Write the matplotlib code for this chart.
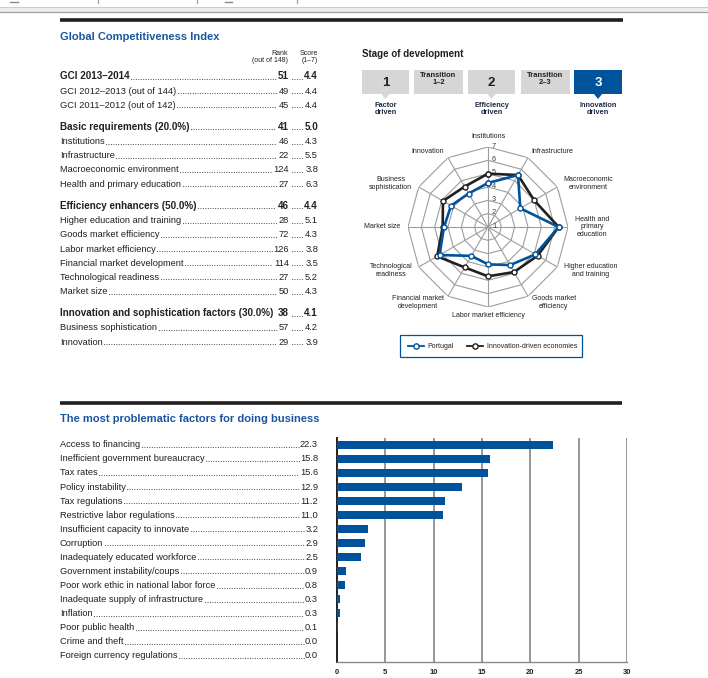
import matplotlib
matplotlib.use('Agg')
import matplotlib.pyplot as plt
import numpy as np
from matplotlib import font_manager, transforms
from matplotlib.patches import Rectangle, Polygon
from matplotlib.lines import Line2D

# ---------------- data ----------------
gci_labels = ['GCI 2013\u20132014', 'GCI 2012\u20132013 (out of 144)', 'GCI 2011\u20132012 (out of 142)',
              'Basic requirements (20.0%)', 'Institutions', 'Infrastructure',
              'Macroeconomic environment', 'Health and primary education',
              'Efficiency enhancers (50.0%)', 'Higher education and training',
              'Goods market efficiency', 'Labor market efficiency',
              'Financial market development', 'Technological readiness', 'Market size',
              'Innovation and sophistication factors (30.0%)', 'Business sophistication',
              'Innovation']
gci_ranks = ['51', '49', '45', '41', '46', '22', '124', '27', '46', '28', '72', '126',
             '114', '27', '50', '38', '57', '29']
gci_scores = ['4.4', '4.4', '4.4', '5.0', '4.3', '5.5', '3.8', '6.3', '4.4', '5.1', '4.3',
              '3.8', '3.5', '5.2', '4.3', '4.1', '4.2', '3.9']
gci_bold = [True, False, False, True, False, False, False, False, True, False, False,
            False, False, False, False, True, False, False]
gci_group = [0, 0, 0, 1, 1, 1, 1, 1, 2, 2, 2, 2, 2, 2, 2, 3, 3, 3]

stage_boxes = ['1', 'Transition\n1\u20132', '2', 'Transition\n2\u20133', '3']
stage_names = ['Factor\ndriven', 'Efficiency\ndriven', 'Innovation\ndriven']
current_stage = 4

pillars = ['Institutions', 'Infrastructure', 'Macroeconomic\nenvironment',
           'Health and\nprimary\neducation', 'Higher education\nand training',
           'Goods market\nefficiency', 'Labor market efficiency',
           'Financial market\ndevelopment', 'Technological\nreadiness', 'Market size',
           'Business\nsophistication', 'Innovation']
portugal = [4.3, 5.5, 3.8, 6.3, 5.1, 4.3, 3.8, 3.5, 5.2, 4.3, 4.2, 3.9]
innovation_driven = [5.0, 5.5, 5.0, 6.3, 5.3, 4.9, 4.7, 4.5, 5.4, 4.4, 4.9, 4.5]
series_names = ['Portugal', 'Innovation-driven economies']

factors = ['Access to financing', 'Inefficient government bureaucracy', 'Tax rates',
           'Policy instability', 'Tax regulations', 'Restrictive labor regulations',
           'Insufficient capacity to innovate', 'Corruption',
           'Inadequately educated workforce', 'Government instability/coups',
           'Poor work ethic in national labor force',
           'Inadequate supply of infrastructure', 'Inflation', 'Poor public health',
           'Crime and theft', 'Foreign currency regulations']
factor_values = [22.3, 15.8, 15.6, 12.9, 11.2, 11.0, 3.2, 2.9, 2.5, 0.9, 0.8, 0.3, 0.3,
                 0.1, 0.0, 0.0]

# ---------------- style ----------------
def pick_font(cands):
    for c in cands:
        try:
            font_manager.findfont(c, fallback_to_default=False)
            return c
        except Exception:
            pass
    return 'DejaVu Sans'

NARROW = pick_font(['Liberation Sans Narrow', 'Arial Narrow', 'Liberation Sans'])
plt.rcParams['font.family'] = [NARROW, 'DejaVu Sans']

BLUE = '#00529b'
TITLE_BLUE = '#1a55a0'
TXT = '#231f20'

W, H = 708, 678
fig = plt.figure(figsize=(W / 100, H / 100), dpi=100)
renderer = fig.canvas.get_renderer()


def fx(x):
    return x / W


def fy(y):
    return 1 - y / H


def ftext(x, y, s, **kw):
    return fig.text(fx(x), fy(y), s, **kw)


def hline(x0, x1, y, **kw):
    fig.add_artist(Line2D([fx(x0), fx(x1)], [fy(y), fy(y)], transform=fig.transFigure, **kw))


def leader(x0, x1, y):
    if x1 - x0 > 2:
        fig.add_artist(Line2D([fx(x0), fx(x1)], [fy(y), fy(y)], transform=fig.transFigure,
                              color='#444444', lw=0.8, linestyle=(0, (0.1, 2.1)),
                              dash_capstyle='round'))


def right_edge(t):
    return t.get_window_extent(renderer).x1


def left_edge(t):
    return t.get_window_extent(renderer).x0

# ---------------- page decorations ----------------
for x in [98, 197, 297]:
    fig.add_artist(Line2D([fx(x), fx(x)], [fy(0), fy(3)], transform=fig.transFigure,
                          color='#b0a8a0', lw=1))
for x0, x1 in [(10, 18), (225, 232)]:
    hline(x0, x1, 1.5, color='#888888', lw=1)
fig.add_artist(Rectangle((0, fy(12)), 1, fy(7) - fy(12), transform=fig.transFigure,
                         facecolor='#eeeeee', edgecolor='none'))
hline(0, W, 7, color='#cccccc', lw=0.8)
hline(0, W, 12, color='#a0a0a0', lw=0.9)
hline(60, 623, 20, color='#231f20', lw=2.6, solid_capstyle='butt')
hline(60, 622, 403, color='#231f20', lw=2.6, solid_capstyle='butt')

# ---------------- GCI table ----------------
ftext(60, 37, 'Global Competitiveness Index', fontsize=8.0, fontweight='bold',
      color=TITLE_BLUE, va='center', ha='left')
ftext(288, 57, 'Rank\n(out of 148)', fontsize=5, color=TXT, ha='right', va='center',
      ma='right', linespacing=1.0)
ftext(318, 57, 'Score\n(1\u20137)', fontsize=5, color=TXT, ha='right', va='center',
      ma='right', linespacing=1.0)

FS_T = 6.7
for i, (lab, rk, sc, bd, g) in enumerate(zip(gci_labels, gci_ranks, gci_scores, gci_bold,
                                              gci_group)):
    yc = 76 + i * 14.2 + g * 8
    yb = yc + 3.3
    w = 'bold' if bd else 'normal'
    fs = FS_T + (0.4 if bd else 0)
    t1 = ftext(60, yb, lab, fontsize=fs, fontweight=w, color=TXT, va='baseline', ha='left')
    t2 = ftext(289, yb, rk, fontsize=fs, fontweight=w, color=TXT, va='baseline', ha='right')
    t3 = ftext(318, yb, sc, fontsize=fs, fontweight=w, color=TXT, va='baseline', ha='right')
    leader(right_edge(t1) + 1.5, left_edge(t2) - 2, yb - 0.5)
    leader(right_edge(t2) + 2.5, left_edge(t3) - 1.5, yb - 0.5)

# ---------------- Stage of development ----------------
ftext(362, 54, 'Stage of development', fontsize=7.0, fontweight='bold', color=TXT,
      va='center', ha='left')
box_x = [(362, 409), (414, 463), (468, 515), (521, 570), (574, 622)]
for k, ((x0, x1), lab) in enumerate(zip(box_x, stage_boxes)):
    active = (k == current_stage)
    fc = BLUE if active else '#d6d6d6'
    tc = 'white' if active else TXT
    fig.add_artist(Rectangle((fx(x0), fy(94)), fx(x1) - fx(x0), fy(70) - fy(94),
                             transform=fig.transFigure, facecolor=fc, edgecolor='none'))
    xc = (x0 + x1) / 2
    if k % 2 == 0:
        ftext(xc, 82.5, lab, fontsize=9.5, fontweight='bold', color=tc, ha='center',
              va='center')
        fig.add_artist(Polygon([[fx(xc - 4), fy(94)], [fx(xc + 4), fy(94)], [fx(xc), fy(99)]],
                               closed=True, transform=fig.transFigure, facecolor=fc,
                               edgecolor='none'))
        ftext(xc, 109, stage_names[k // 2], fontsize=5.3, fontweight='bold', color='#1c2a44',
              ha='center', va='center', linespacing=1.05)
    else:
        ftext(xc, 79, lab, fontsize=5.4, fontweight='bold', color=TXT, ha='center',
              va='center', linespacing=1.0)

# ---------------- Radar ----------------
cx, cy, R = 488, 227, 80
axr = fig.add_axes([fx(cx - R), fy(cy + R), 2 * R / W, 2 * R / H], projection='polar')
axr.set_theta_zero_location('N')
axr.set_theta_direction(-1)
axr.set_ylim(1, 7)
axr.grid(False)
axr.set_xticks([])
axr.set_yticks([])
axr.spines['polar'].set_visible(False)
axr.patch.set_visible(False)
n = len(pillars)
theta = np.arange(n) * 2 * np.pi / n
theta_c = np.append(theta, theta[0])
for r in range(2, 8):
    axr.plot(theta_c, [r] * (n + 1), color='#9d9d9d', lw=0.8, zorder=1)
for t in theta:
    axr.plot([t, t], [1, 7], color='#9d9d9d', lw=0.8, zorder=1)
off = transforms.offset_copy(axr.transData, fig=fig, x=4, y=1, units='dots')
for r in range(1, 8):
    axr.text(0, r, str(r), transform=off, fontsize=5.3, color='#4a3a30', ha='left',
             va='center', zorder=2)
for vals, col, z in [(innovation_driven, '#231f20', 3), (portugal, BLUE, 4)]:
    v = np.append(vals, vals[0])
    axr.plot(theta_c, v, color=col, lw=1.9, marker='o', ms=3.6, mfc='white', mec=col,
             mew=1.0, zorder=z, clip_on=False)
for t, lab in zip(theta, pillars):
    deg = np.degrees(t)
    if deg == 0:
        ha, va, rr = 'center', 'bottom', 7.5
    elif deg == 180:
        ha, va, rr = 'center', 'top', 7.35
    elif deg < 180:
        ha, va, rr = 'left', 'center', 7.55
    else:
        ha, va, rr = 'right', 'center', 7.55
    axr.text(t, rr, lab, fontsize=5.0, color=TXT, ha=ha, va=va, ma='center',
             linespacing=1.1, clip_on=False)

# legend
fig.add_artist(Rectangle((fx(400), fy(357)), fx(582) - fx(400), fy(335) - fy(357),
                         transform=fig.transFigure, facecolor='white', edgecolor=BLUE,
                         lw=0.9))
for (x0, x1, xt), col, name in zip([(408, 424, 427), (467, 483, 487)], [BLUE, '#231f20'],
                                    series_names):
    fig.add_artist(Line2D([fx(x0), fx(x1)], [fy(346), fy(346)], transform=fig.transFigure,
                          color=col, lw=1.3))
    fig.add_artist(Line2D([fx((x0 + x1) / 2)], [fy(346)], transform=fig.transFigure,
                          color=col, marker='o', ms=3.8, mfc='white', mec=col, mew=1.0))
    ftext(xt, 346, name, fontsize=5.0, color=TXT, ha='left', va='center')

# ---------------- Problematic factors ----------------
ftext(60, 419, 'The most problematic factors for doing business', fontsize=8.0,
      fontweight='bold', color=TITLE_BLUE, va='center', ha='left')
for i, (lab, v) in enumerate(zip(factors, factor_values)):
    yb = 444 + i * 14.07 + 3.3
    t1 = ftext(60, yb, lab, fontsize=FS_T, color=TXT, va='baseline', ha='left')
    t2 = ftext(318, yb, f'{v:.1f}', fontsize=FS_T, color=TXT, va='baseline', ha='right')
    leader(right_edge(t1) + 1.5, left_edge(t2) - 1, yb - 0.5)

axb = fig.add_axes([fx(337), fy(662), (627 - 337) / W, (662 - 438) / H])
ypos = np.arange(len(factors))
axb.barh(ypos, factor_values, height=0.52, color=BLUE, zorder=3)
axb.set_xlim(0, 30)
axb.set_ylim(len(factors) - 0.5, -0.5)
axb.set_yticks([])
axb.set_xticks(np.arange(0, 31, 5))
axb.tick_params(axis='x', length=0, pad=5, labelsize=5.4, colors=TXT)
for lbl in axb.get_xticklabels():
    lbl.set_fontweight('bold')
for x in np.arange(5, 31, 5):
    axb.axvline(x, color='#7a7a7a', lw=1.1, zorder=1)
for s in ['top', 'right']:
    axb.spines[s].set_visible(False)
axb.spines['left'].set_color('#231f20')
axb.spines['left'].set_linewidth(1.4)
axb.spines['bottom'].set_color('#8a8a8a')
axb.spines['bottom'].set_linewidth(1.0)
axb.patch.set_visible(False)

fig.savefig('out.png', dpi=100)
